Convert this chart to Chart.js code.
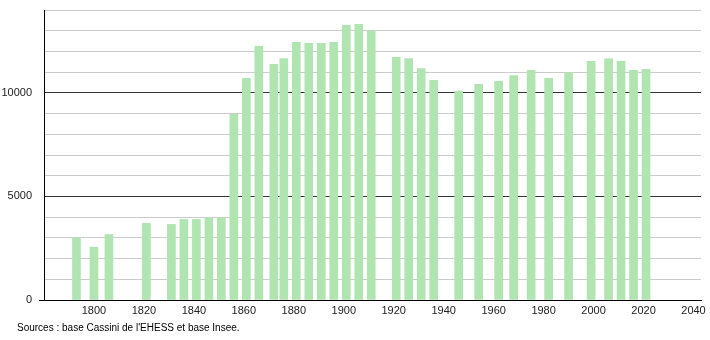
<!DOCTYPE html>
<html>
<head>
<meta charset="utf-8">
<script src="https://cdn.jsdelivr.net/npm/chart.js@4"></script>
<style>
  body { margin: 0; background: #fff; }
  #wrap { position: relative; width: 710px; height: 340px; }
  #src { position: absolute; left: 17px; top: 322px; font: 10px "Liberation Sans", Arial, sans-serif; color: #000; }
</style>
</head>
<body>
<div id="wrap">
  <canvas id="popChart" width="710" height="340"></canvas>
  <div id="src">Sources : base Cassini de l'EHESS et base Insee.</div>
</div>
<script>
// census years and population
const years = [1793, 1800, 1806, 1821, 1831, 1836, 1841, 1846, 1851, 1856,
    1861, 1866, 1872, 1876, 1881, 1886, 1891, 1896, 1901, 1906, 1911,
    1921, 1926, 1931, 1936, 1946, 1954, 1962, 1968, 1975, 1982, 1990,
    1999, 2006, 2011, 2016, 2021];
const population = [3000, 2550, 3160, 3700, 3650, 3890, 3890, 3970, 3970, 8960,
    10700, 12250, 11380, 11650, 12440, 12390, 12390, 12440, 13260, 13310, 13000,
    11720, 11650, 11170, 10600, 10090, 10410, 10560, 10830, 11090, 10700, 10980,
    11520, 11640, 11520, 11090, 11140];
const yLabels = [0, 5000, 10000];

const ctx = document.getElementById('popChart').getContext('2d');
new Chart(ctx, {
    type: 'bar',
    data: {
        datasets: [{
            label: 'Population',
            data: years.map((y, i) => ({ x: y, y: population[i] })),
            backgroundColor: 'rgb(176, 228, 176)',
            borderWidth: 0,
            barThickness: 8,
        }]
    },
    options: {
        responsive: false,
        animation: false,
        layout: { padding: { top: 10, right: 9, left: 0, bottom: 0 } },
        plugins: { legend: { display: false }, tooltip: { enabled: false } },
        scales: {
            x: {
                type: 'linear',
                offset: false,
                min: 1780,
                max: 2043,
                afterFit: s => { s.height = 40; },
                grid: { display: false, drawTicks: false },
                border: { display: true, color: '#000', width: 1 },
                ticks: {
                    stepSize: 20,
                    includeBounds: false,
                    autoSkip: false,
                    maxRotation: 0,
                    padding: 4,
                    color: '#222',
                    font: { family: 'Liberation Sans', size: 11 },
                    callback: v => (v % 20 === 0 && v >= 1800) ? String(v) : ''
                }
            },
            y: {
                min: 0,
                max: 14000,
                afterFit: s => { s.width = 44; s.paddingTop = 0; s.paddingBottom = 0; },
                border: { display: true, color: '#000', width: 1 },
                grid: {
                    color: c => (c.tick.value === 5000 || c.tick.value === 10000) ? '#333' : '#ccc',
                    tickLength: 5,
                    tickColor: c => c.tick.value === 0 ? '#000' : 'rgba(0,0,0,0)'
                },
                ticks: {
                    stepSize: 1000,
                    autoSkip: false,
                    padding: 7,
                    color: '#222',
                    font: { family: 'Liberation Sans', size: 11 },
                    callback: v => yLabels.includes(v) ? String(v) : ''
                }
            }
        }
    }
});
</script>
</body>
</html>
